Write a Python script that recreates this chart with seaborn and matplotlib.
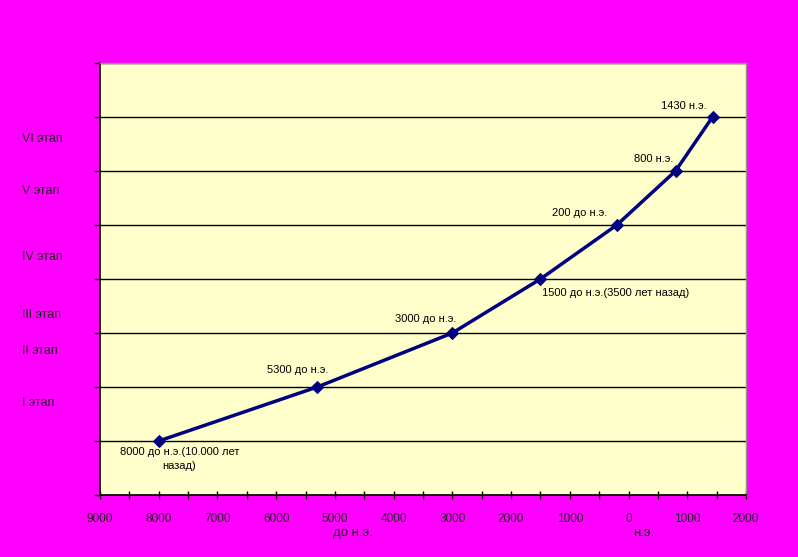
import matplotlib
matplotlib.use("Agg")
import matplotlib.pyplot as plt
import matplotlib.transforms as mtransforms
from matplotlib.ticker import MultipleLocator, FuncFormatter
import seaborn as sns
import pandas as pd

# ---- data ----
years = [-8000, -5300, -3000, -1500, -200, 800, 1430]
stage_level = [1, 2, 3, 4, 5, 6, 7]
point_labels = ["8000 до н.э.(10.000 лет\nназад)", "5300 до н.э.", "3000 до н.э.",
                "1500 до н.э.(3500 лет назад)", "200 до н.э.", "800 н.э.", "1430 н.э."]
stage_names = ["I этап", "II этап", "III этап", "IV этап", "V этап", "VI этап"]
stage_name_y = [1.70, 2.67, 3.33, 4.41, 5.63, 6.59]
era_labels = ["до н.э.", "н.э."]

# layout (offsets in points for the point labels)
label_offsets = [(15, -13), (-14, 12), (-19, 10), (54, -10), (-27, 9), (-16, 9), (-20.5, 8)]
era_x = [-4690, 263]

df = pd.DataFrame({"year": years, "level": stage_level})

sns.set_theme(style="white")
plt.rcParams["font.family"] = ["Liberation Sans", "DejaVu Sans"]

fig = plt.figure(figsize=(7.98, 5.57), dpi=100)
fig.patch.set_facecolor("#FF00FF")
ax = fig.add_axes([100 / 798, (557 - 495) / 557, 646 / 798, 432 / 557])
ax.set_facecolor("#FFFFCC")

sns.lineplot(data=df, x="year", y="level", sort=False, ax=ax, color="#000080",
             linewidth=2.5, marker="D", markersize=6.5, markeredgecolor="#000080",
             markerfacecolor="#000080")

ax.set_xlim(-9000, 2000)
ax.set_ylim(0, 8)

# horizontal gridlines
ax.yaxis.set_major_locator(MultipleLocator(1))
ax.grid(axis="y", color="black", linewidth=1)
ax.grid(axis="x", visible=False)
ax.set_yticklabels([])

ax.xaxis.set_major_locator(MultipleLocator(1000))
ax.xaxis.set_minor_locator(MultipleLocator(500))
ax.xaxis.set_major_formatter(FuncFormatter(lambda v, p: f"{abs(int(round(v)))}"))
ax.tick_params(axis="x", which="both", direction="inout", length=6, width=1,
               color="black", labelsize=8.5, labelcolor="#202020", pad=10, bottom=True)
ax.tick_params(axis="y", which="major", direction="out", length=4, width=1,
               color="black", left=True)

for side in ["left", "bottom"]:
    ax.spines[side].set_color("black")
    ax.spines[side].set_linewidth(1.2)
for side in ["top", "right"]:
    ax.spines[side].set_color("#909090")
    ax.spines[side].set_linewidth(1)

ax.set_xlabel("")
ax.set_ylabel("")

for x, y, lab, off in zip(years, stage_level, point_labels, label_offsets):
    ax.annotate(lab, (x, y), xytext=off, textcoords="offset points",
                ha="center", va="center", fontsize=8, color="black",
                linespacing=1.4)

trans = mtransforms.blended_transform_factory(fig.transFigure, ax.transData)
for name, y in zip(stage_names, stage_name_y):
    fig.text(22 / 798, y, name, transform=trans, ha="left", va="center",
             fontsize=9, color="#202020")

trans_x = mtransforms.blended_transform_factory(ax.transData, fig.transFigure)
for name, x in zip(era_labels, era_x):
    fig.text(x, (557 - 533) / 557, name, transform=trans_x, ha="center",
             va="center", fontsize=9.5, color="#202020")

fig.savefig("out.png", dpi=100, facecolor=fig.get_facecolor())
